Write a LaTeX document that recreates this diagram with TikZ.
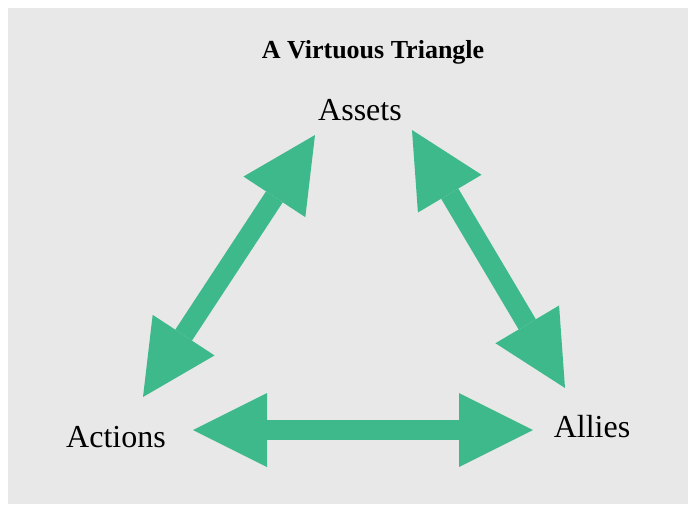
\documentclass[tikz,border=0pt]{standalone}
\usepackage{fontspec}
\setmainfont{Liberation Serif}
\usetikzlibrary{arrows.meta}
\definecolor{bggray}{RGB}{232,232,232}
\definecolor{arrowgreen}{RGB}{62,185,140}
\tikzset{
  label text/.style={font=\fontsize{32}{36}\selectfont, anchor=base, inner sep=0pt},
  title text/.style={font=\fontsize{26}{30}\selectfont\bfseries, anchor=base, inner sep=0pt},
  fat arrow/.style={draw=arrowgreen, line width=20pt,
    {Triangle[length=74pt,width=74pt,line width=0pt,fill=arrowgreen]}-{Triangle[length=74pt,width=74pt,line width=0pt,fill=arrowgreen]}}
}
\begin{document}
\begin{tikzpicture}[x=1pt,y=-1pt]
\useasboundingbox (0,0) rectangle (688,504);
\fill[white] (0,0) rectangle (688,504);
\fill[bggray] (8,8) rectangle (688,504);
\node[title text] (title) at (373,58) {A Virtuous Triangle};
\node[label text] (assets) at (360,120) {Assets};
\node[label text] (actions) at (116,447) {Actions};
\node[label text] (allies) at (592,437) {Allies};
\coordinate (ltop) at (315,135);
\coordinate (lbot) at (143,397);
\coordinate (rtop) at (412,130);
\coordinate (rbot) at (565,388);
\coordinate (hl) at (193,430);
\coordinate (hr) at (533,430);
\draw[fat arrow] (lbot) -- (ltop);
\draw[fat arrow] (rtop) -- (rbot);
\draw[fat arrow] (hl) -- (hr);
\end{tikzpicture}
\end{document}
